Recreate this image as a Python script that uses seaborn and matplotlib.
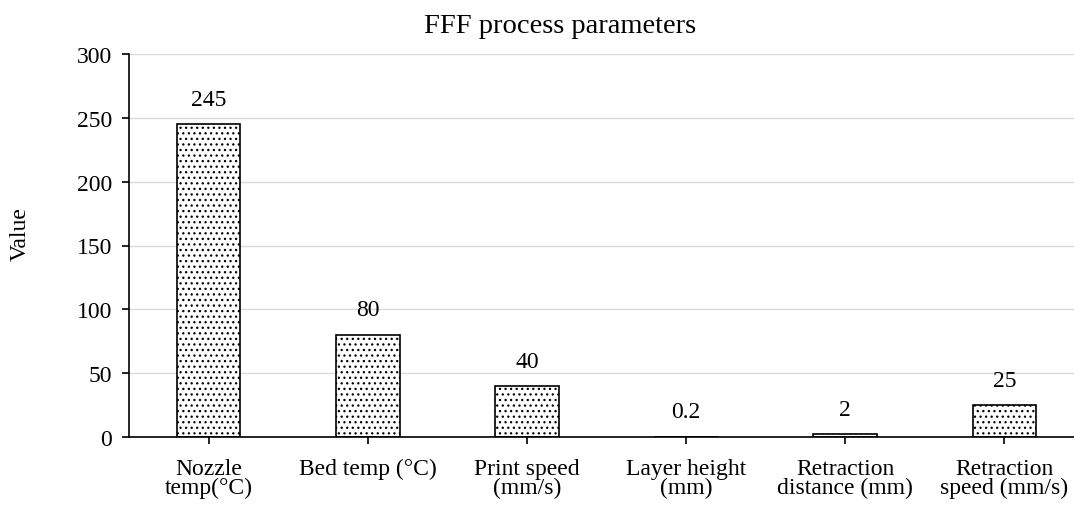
import matplotlib
matplotlib.use("Agg")
import matplotlib.pyplot as plt
import seaborn as sns
import pandas as pd

categories = ["Nozzle\ntemp(°C)", "Bed temp (°C)", "Print speed\n(mm/s)", "Layer height\n(mm)",
              "Retraction\ndistance (mm)", "Retraction\nspeed (mm/s)"]
values = [245, 80, 40, 0.2, 2, 25]
labels = ["245", "80", "40", "0.2", "2", "25"]
yticks = [0, 50, 100, 150, 200, 250, 300]

sns.set_theme(style="white")
plt.rcParams['font.family'] = ['Liberation Serif', 'DejaVu Serif']
plt.rcParams['hatch.linewidth'] = 0.9
plt.rcParams['hatch.color'] = 'black'
plt.rcParams['text.color'] = 'black'
plt.rcParams['axes.labelcolor'] = 'black'

df = pd.DataFrame({"cat": categories, "val": values})
fig = plt.figure(figsize=(10.74, 5.06), dpi=100)
ax = fig.add_axes([129/1074, 1-438/506, (1084-129)/1074, (438-55)/506])
sns.barplot(data=df, x="cat", y="val", ax=ax, color="white", edgecolor="black",
            linewidth=1.2, width=0.4, saturation=1)
for p in ax.patches:
    p.set_hatch('...')
ax.set_ylim(0, 300)
ax.set_yticks(yticks)
ax.set_xlim(-0.5, len(categories) - 0.5)
ax.yaxis.grid(True, color="#d9d9d9", linewidth=1)
ax.set_axisbelow(True)
for s in ["top", "right"]:
    ax.spines[s].set_visible(False)
for s in ["left", "bottom"]:
    ax.spines[s].set_color("black")
    ax.spines[s].set_linewidth(1.2)
ax.tick_params(axis="both", which="both", direction="out", length=5, width=1.2,
               color="black", labelsize=17, left=True, bottom=True, colors="black", pad=7)
ax.tick_params(axis="x", pad=10)
for lbl in ax.get_xticklabels():
    lbl.set_linespacing(0.88)
for i, (v, t) in enumerate(zip(values, labels)):
    ax.text(i, v + 19.5, t, ha="center", va="center", fontsize=17)
ax.set_xlabel("")
ax.set_ylabel("Value", fontsize=17)
ax.yaxis.set_label_coords(-0.103, 0.533)
fig.text(560/1074, 1 - 33/506, "FFF process parameters", fontsize=20.5,
         ha="center", va="baseline")
fig.savefig("out.png", dpi=100)
